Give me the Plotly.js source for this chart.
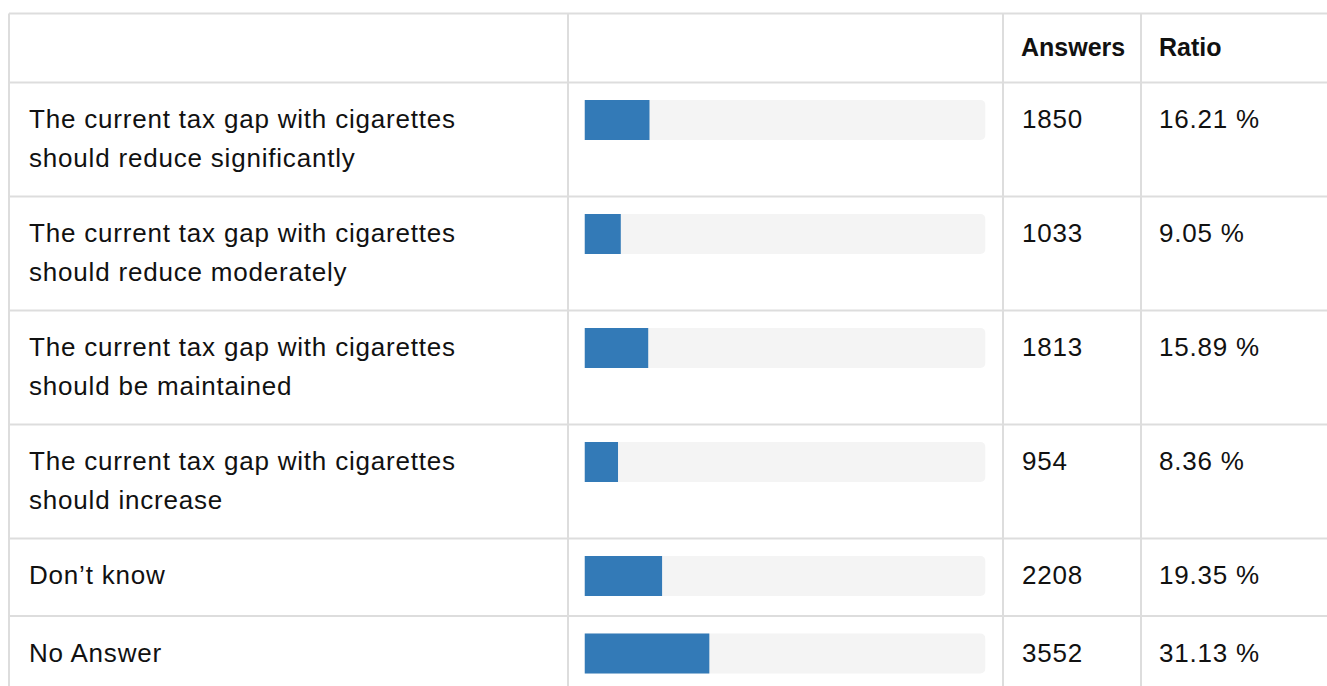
<!DOCTYPE html>
<html>
<head>
<meta charset="utf-8">
<script src="https://cdn.plot.ly/plotly-3.0.1.min.js"></script>
<style>
  html, body { margin: 0; padding: 0; background: #ffffff; }
  #chart { width: 1327px; height: 686px; }
  #chart .annotation .annotation-text { letter-spacing: 0.8px; }
  #chart .annotation[data-index="0"] .annotation-text,
  #chart .annotation[data-index="1"] .annotation-text { letter-spacing: 0px; }
</style>
</head>
<body>
<div id="chart"></div>
<script>
// ---- data ----
const labels = [
  "The current tax gap with cigarettes<br>should reduce significantly",
  "The current tax gap with cigarettes<br>should reduce moderately",
  "The current tax gap with cigarettes<br>should be maintained",
  "The current tax gap with cigarettes<br>should increase",
  "Don’t know",
  "No Answer"
];
const answers = [1850, 1033, 1813, 954, 2208, 3552];
const ratios = [16.21, 9.05, 15.89, 8.36, 19.35, 31.13];
const headers = ["", "", "Answers", "Ratio"];

// ---- layout constants (pixels) ----
const W = 1327, H = 686;
const tableTop = 13.5, headerBottom = 82.5;
const colX = [9, 568, 1003, 1141];
const barLeft = 584.5, barRight = 985.5;
const lineGap = 38.5;
const fontFam = "Liberation Sans, Arial, Helvetica, sans-serif";
const textColor = "#111111";
const gridColor = "#dddddd";

// row geometry computed from number of label lines
const rowTops = [];
const rowHeights = [];
let cur = headerBottom;
labels.forEach(l => {
  const n = l.split("<br>").length;
  const h = n > 1 ? 114 : 77.5;
  rowTops.push(cur);
  rowHeights.push(h);
  cur += h;
});
const barCenters = rowTops.map(t => t + 37.5);
const textCenters = rowTops.map(t => t + 36.5);

const px = x => x / W;

// ---- traces ----
const bgTrace = {
  type: "bar", orientation: "h",
  x: ratios.map(() => 100), y: barCenters, width: 40,
  marker: { color: "#f4f4f4", cornerradius: 5 },
  hoverinfo: "skip", showlegend: false
};
const barTrace = {
  type: "bar", orientation: "h",
  x: ratios, y: barCenters, width: 40,
  marker: { color: "#337ab7" },
  hoverinfo: "skip", showlegend: false
};

// ---- grid lines ----
const shapes = [];
const hLines = [tableTop, headerBottom].concat(rowTops.map((t, i) => t + rowHeights[i]));
hLines.forEach(y => shapes.push({
  type: "line", xref: "paper", yref: "y",
  x0: px(colX[0]), x1: 1.05, y0: y, y1: y,
  line: { color: gridColor, width: 2 }, layer: "below"
}));
colX.forEach(x => shapes.push({
  type: "line", xref: "paper", yref: "y",
  x0: px(x), x1: px(x), y0: tableTop, y1: H + 20,
  line: { color: gridColor, width: 2 }, layer: "below"
}));

// ---- text ----
const annotations = [];
function addText(text, x, y, bold) {
  annotations.push({
    text: bold ? "<b>" + text + "</b>" : text,
    xref: "paper", yref: "y", x: px(x), y: y,
    xanchor: "left", yanchor: "middle", align: "left", showarrow: false,
    font: { family: fontFam, size: bold ? 25 : 26, color: textColor }
  });
}
headers.forEach((h, i) => { if (h) addText(h, colX[i] + 16, 47, true); });
labels.forEach((l, i) => {
  l.split("<br>").forEach((line, j) => addText(line, 26.5, textCenters[i] + j * lineGap, false));
  addText(String(answers[i]), colX[2] + 17, textCenters[i], false);
  addText(ratios[i].toFixed(2) + " %", colX[3] + 16, textCenters[i], false);
});

const layout = {
  width: W, height: H,
  margin: { l: 0, r: 0, t: 0, b: 0 },
  paper_bgcolor: "#ffffff", plot_bgcolor: "rgba(0,0,0,0)",
  barmode: "overlay",
  xaxis: { domain: [px(barLeft), px(barRight)], range: [0, 100], visible: false, fixedrange: true },
  yaxis: { domain: [0, 1], range: [H, 0], visible: false, fixedrange: true },
  shapes: shapes,
  annotations: annotations,
  showlegend: false
};

Plotly.newPlot("chart", [bgTrace, barTrace], layout, { displayModeBar: false, staticPlot: true });
</script>
</body>
</html>
